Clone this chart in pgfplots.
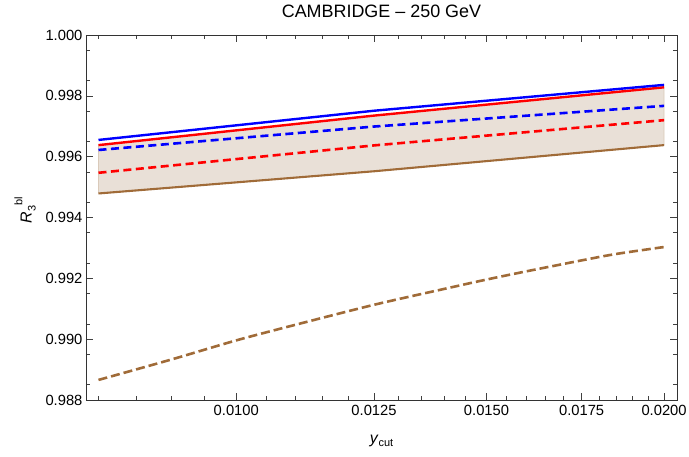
\documentclass[border=0pt]{standalone}
\usepackage{pgfplots}
\pgfplotsset{compat=1.18}
\usepackage{fontspec}
\setmainfont{Liberation Sans}

\definecolor{mblue}{RGB}{0,0,255}
\definecolor{mred}{RGB}{255,0,0}
\definecolor{mbrown}{RGB}{160,107,56}
\definecolor{bandfill}{RGB}{233,224,215}
\definecolor{bandedge}{RGB}{218,202,186}

\begin{document}
\begin{tikzpicture}
\path[use as bounding box] (-86bp,-57bp) rectangle (603bp,400bp);
\begin{axis}[
  at={(0,0)}, anchor=south west,
  width=591bp, height=365bp, scale only axis,
  xmode=log,
  xmin=0.00784, xmax=0.02042,
  ymin=0.988, ymax=1.000,
  xtick={0.01,0.0125,0.015,0.0175,0.02},
  xticklabels={0.0100,0.0125,0.0150,0.0175,0.0200},
  minor xtick={0.008,0.0085,0.009,0.0095,0.0105,0.011,0.0115,0.012,
               0.013,0.0135,0.014,0.0145,0.0155,0.016,0.0165,0.017,
               0.018,0.0185,0.019,0.0195},
  ytick={0.988,0.990,0.992,0.994,0.996,0.998,1.000},
  yticklabels={0.988,0.990,0.992,0.994,0.996,0.998,1.000},
  minor ytick={0.9885,0.9895,0.9905,0.9915,0.9925,0.9935,0.9945,0.9955,
               0.9965,0.9975,0.9985,0.9995},
  tick align=inside,
  major tick length=7bp, minor tick length=4bp,
  every tick/.style={black!75, line width=0.6bp},
  axis line style={black!80, line width=0.8bp},
  ticklabel style={font=\fontsize{14.8}{17}\selectfont},
  xticklabel style={yshift=-2bp},
  title={CAMBRIDGE -- 250 GeV},
  title style={font=\fontsize{18}{21}\selectfont, at={(axis description cs:0.5,1)}, anchor=base, yshift=12bp},
  xlabel={\textit{y}\raisebox{-0.45ex}{\fontsize{11}{12}\selectfont cut}},
  xlabel style={font=\fontsize{16}{18}\selectfont, at={(axis description cs:0.5,0)}, anchor=base, yshift=-43bp},
  ylabel={\textit{R}\raisebox{-0.45ex}{\fontsize{11}{12}\selectfont 3}\raisebox{1.1ex}{\fontsize{11}{12}\selectfont bl}},
  ylabel style={font=\fontsize{16}{18}\selectfont, at={(axis description cs:-0.103,0.52)}, anchor=center},
]

% shaded band: lower edge forward, upper edge back
\addplot[fill=bandfill, draw=bandedge, line width=0.8bp] coordinates {
  (0.008,0.99479) (0.0125,0.99552) (0.02,0.99638)
  (0.02,0.99828) (0.0125,0.99735) (0.008,0.99638) (0.008,0.99479)};

% brown curves
\addplot[mbrown, line width=2.1bp] coordinates {
  (0.008,0.99479) (0.0125,0.99552) (0.02,0.99638)};
\addplot[mbrown, line width=2.6bp, dash pattern=on 9bp off 4bp, smooth] coordinates {
  (0.008,0.98866) (0.009,0.98933) (0.01,0.98996) (0.011,0.99047)
  (0.0125,0.99113) (0.014,0.99165) (0.015,0.99196) (0.016,0.99223)
  (0.0175,0.99259) (0.0185,0.99280) (0.02,0.99303)};

% red and blue dashed curves
\addplot[mred, line width=2.6bp, dash pattern=on 8bp off 4.5bp] coordinates {
  (0.008,0.99547) (0.0125,0.99637) (0.02,0.99720)};
\addplot[mblue, line width=2.6bp, dash pattern=on 8bp off 4.5bp] coordinates {
  (0.008,0.99622) (0.0125,0.99699) (0.02,0.99767)};

% red and blue solid curves
\addplot[mred, line width=2.4bp] coordinates {
  (0.008,0.99638) (0.0125,0.99735) (0.02,0.99828)};
\addplot[mblue, line width=2.4bp] coordinates {
  (0.008,0.99655) (0.0125,0.99751) (0.02,0.99836)};
\end{axis}
\end{tikzpicture}
\end{document}
